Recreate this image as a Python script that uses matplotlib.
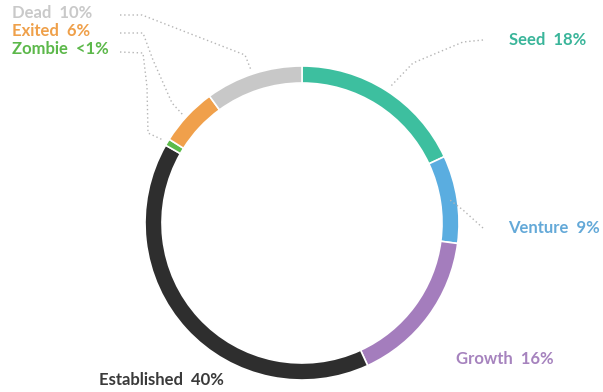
import matplotlib.pyplot as plt

stages = ["Seed", "Venture", "Growth", "Established", "Zombie", "Exited", "Dead"]
shares = [18, 9, 16, 40, 0.7, 6, 10]
share_labels = ["18%", "9%", "16%", "40%", "<1%", "6%", "10%"]

ring_colors = ["#3dbf9f", "#5aade0", "#a47dbd", "#2e2e2e", "#5dbb4a", "#f0a04b", "#c8c8c8"]
text_colors = ["#3ab59a", "#64a9d8", "#a683be", "#3a3a3a", "#5cb84a", "#efa04a", "#c9c9c9"]

W, H = 603, 392
fig = plt.figure(figsize=(W / 100, H / 100), dpi=100)
ax = fig.add_axes([0, 0, 1, 1])

# ring, clockwise from 12 o'clock
cx, cy, r = 302, H - 223, 157
ax.pie(shares, colors=ring_colors, startangle=90, counterclock=False,
       center=(cx, cy), radius=r,
       wedgeprops=dict(width=17, edgecolor="white", linewidth=1.2))

ax.set_xlim(0, W)
ax.set_ylim(0, H)
ax.set_aspect("equal")
ax.axis("off")

# label anchors in pixel space (x, y from top)
label_pos = {
    "Seed": (509, 40),
    "Venture": (508, 228),
    "Growth": (456, 359),
    "Established": (99, 380),
    "Zombie": (12, 49),
    "Exited": (12, 31),
    "Dead": (12, 13),
}
for name, val, col in zip(stages, share_labels, text_colors):
    x, y = label_pos[name]
    ax.text(x, H - y, f"{name}  {val}", color=col, fontsize=12,
            family="Lato", weight="bold", ha="left", va="center")

# dotted leaders from labels to the ring
leaders = [
    [(120, 15), (142, 15), (245, 55), (251, 70)],
    [(120, 33), (143, 33), (153, 60), (172, 103), (183, 115)],
    [(120, 52), (143, 53), (147, 87), (148, 133), (163, 140)],
    [(483, 40), (463, 42), (413, 63), (390, 87)],
    [(483, 228), (463, 210), (450, 200)],
]
for pts in leaders:
    xs = [p[0] for p in pts]
    ys = [H - p[1] for p in pts]
    ax.plot(xs, ys, color="#b5b5b5", linestyle=(0, (1, 2)), linewidth=1)

fig.savefig("out.png", dpi=100)
